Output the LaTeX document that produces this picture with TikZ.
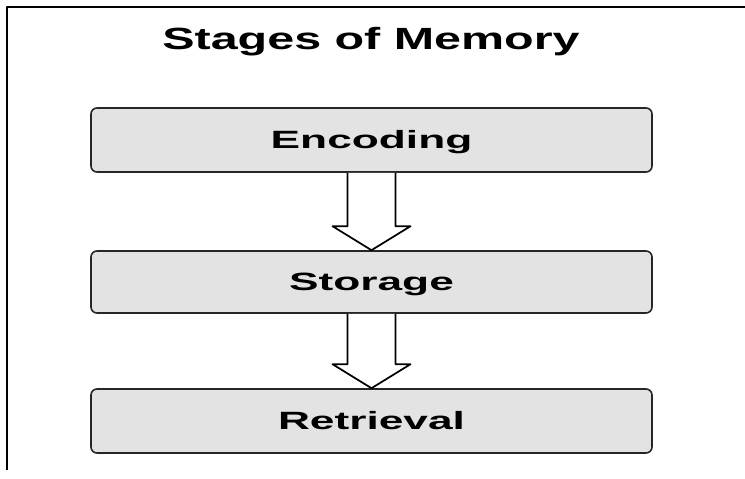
\documentclass[tikz,border=0pt]{standalone}
\usepackage{fontspec}
\setmainfont{Liberation Sans}
\newfontfamily\titlefont[FakeStretch=1.58]{Liberation Sans}
\newfontfamily\stagefont[FakeStretch=1.77]{Liberation Sans}
\usetikzlibrary{calc}
\tikzset{
every picture/.style={line join=round},
stagebox/.style={draw=black!85, fill=black!11, rounded corners=4.5pt, line width=1.2pt,
  minimum width=420.75pt, minimum height=48pt, inner sep=0pt,
  font=\stagefont\bfseries\fontsize{18.75}{20}\selectfont, text height=13.4pt, text depth=0pt},
blockarrow/.style={draw=black, fill=white, line width=1.3pt}
}

\begin{document}
\begin{tikzpicture}[x=0.75pt, y=0.75pt]
      \useasboundingbox (0,0) rectangle (745,478);
      \draw[line width=1.5pt] (7,8) -- (7,471) -- (745,471);
      \node[font=\titlefont\bfseries\fontsize{23}{26}\selectfont, anchor=base] (title) at (371,428) {Stages of Memory};
      \node[stagebox] (enc) at (371.5,338) {Encoding};
      \node[stagebox, minimum height=46.5pt] (sto) at (371.5,196) {Storage};
      \node[stagebox] (ret) at (371.5,57) {Retrieval};
      \foreach \a/\b in {enc/sto, sto/ret}
        \draw[blockarrow] ($(\a.south)+(-24,0)$) -- ($(\b.north)+(-24,24)$) -- ++(-15,0) -- (\b.north)
          -- ++(39,24) -- ++(-15,0) -- ($(\a.south)+(24,0)$);
    \end{tikzpicture}
\end{document}
